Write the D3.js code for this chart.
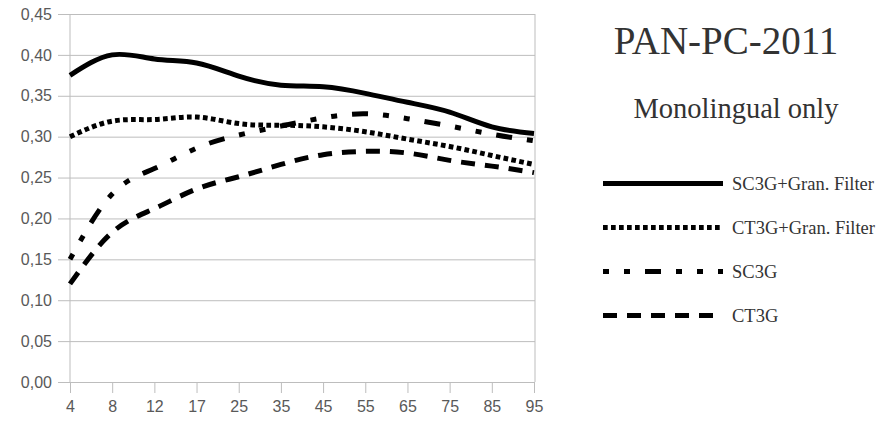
<!DOCTYPE html>
<html>
<head>
  <meta charset="utf-8">
  <script src="https://d3js.org/d3.v7.min.js"></script>
  <style>
    body { margin: 0; background: #fff; }
  </style>
</head>
<body>
  <div id="my_dataviz"></div>
<script>

  // categories on the x axis
  var categories = ["4", "8", "12", "17", "25", "35", "45", "55", "65", "75", "85", "95"];

  // series values
  var sc3gGran = [0.375, 0.400, 0.395, 0.390, 0.374, 0.363, 0.361, 0.353, 0.342, 0.330, 0.312, 0.304];
  var ct3gGran = [0.300, 0.319, 0.321, 0.324, 0.316, 0.314, 0.312, 0.306, 0.297, 0.288, 0.277, 0.266];
  var sc3g     = [0.150, 0.230, 0.261, 0.286, 0.302, 0.313, 0.323, 0.328, 0.322, 0.313, 0.303, 0.295];
  var ct3g     = [0.120, 0.183, 0.212, 0.236, 0.251, 0.266, 0.278, 0.282, 0.280, 0.271, 0.264, 0.256];

  var seriesNames = ["SC3G+Gran. Filter", "CT3G+Gran. Filter", "SC3G", "CT3G"];
  var yTicks = [0, 0.05, 0.10, 0.15, 0.20, 0.25, 0.30, 0.35, 0.40, 0.45];

  var series = [
    {name: seriesNames[0], values: sc3gGran, dash: null},
    {name: seriesNames[1], values: ct3gGran, dash: "4.7,3.3"},
    {name: seriesNames[2], values: sc3g, dash: "6,15,6,15,16,15"},
    {name: seriesNames[3], values: ct3g, dash: "14,10"}
  ];

  var width = 879, height = 422;
  var plot = {left: 70, right: 534, top: 14, bottom: 382};

  var svg = d3.select("#my_dataviz")
    .append("svg")
      .attr("width", width)
      .attr("height", height);

  var x = d3.scalePoint()
      .domain(categories)
      .range([plot.left, plot.right]);

  var y = d3.scaleLinear()
      .domain([0, 0.45])
      .range([plot.bottom, plot.top]);

  var grid = "#bdbdbd";
  var fmt = function(d) { return d3.format(".2f")(d).replace(".", ","); };

  // horizontal grid + y axis labels
  var yAxis = svg.append("g")
      .attr("transform", "translate(" + (plot.right + 1) + ",0)")
      .call(d3.axisLeft(y).tickValues(yTicks).tickSize(plot.right + 1 - plot.left + 12).tickPadding(6).tickFormat(fmt));
  yAxis.select(".domain").remove();
  yAxis.selectAll("line").attr("stroke", grid);
  yAxis.selectAll("text")
      .attr("fill", "#595959")
      .style("font-family", "'Liberation Sans', Arial, sans-serif")
      .style("font-size", "16px");

  // x axis
  var xAxis = svg.append("g")
      .attr("transform", "translate(0," + plot.bottom + ")")
      .call(d3.axisBottom(x).tickSize(11).tickPadding(8));
  xAxis.select(".domain").remove();
  xAxis.selectAll("line").attr("stroke", grid);
  xAxis.selectAll("text")
      .attr("fill", "#595959")
      .style("font-family", "'Liberation Sans', Arial, sans-serif")
      .style("font-size", "16px");

  // left axis line and right border
  svg.append("line")
      .attr("x1", plot.left).attr("x2", plot.left)
      .attr("y1", plot.top).attr("y2", plot.bottom)
      .attr("stroke", grid);
  svg.append("line")
      .attr("x1", plot.right + 1).attr("x2", plot.right + 1)
      .attr("y1", plot.top).attr("y2", plot.bottom)
      .attr("stroke", grid);

  // the lines
  var line = d3.line()
      .curve(d3.curveNatural)
      .x(function(d, i) { return x(categories[i]); })
      .y(function(d) { return y(d); });

  svg.append("g")
    .selectAll("path")
    .data(series)
    .join("path")
      .attr("fill", "none")
      .attr("stroke", "#000")
      .attr("stroke-width", 5)
      .attr("stroke-dasharray", function(d) { return d.dash; })
      .attr("d", function(d) { return line(d.values); });

  // titles
  svg.append("text")
      .attr("x", 726).attr("y", 54)
      .attr("text-anchor", "middle")
      .attr("fill", "#333")
      .style("font-family", "'Liberation Serif', 'Times New Roman', serif")
      .style("font-size", "39px")
      .text("PAN-PC-2011");
  svg.append("text")
      .attr("x", 736).attr("y", 118)
      .attr("text-anchor", "middle")
      .attr("fill", "#333")
      .style("font-family", "'Liberation Serif', 'Times New Roman', serif")
      .style("font-size", "28.5px")
      .text("Monolingual only");

  // legend
  var legend = svg.append("g")
    .selectAll("g")
    .data(series)
    .join("g")
      .attr("transform", function(d, i) { return "translate(603," + (183.5 + i * 44) + ")"; });
  legend.append("line")
      .attr("x1", 0).attr("x2", 120)
      .attr("stroke", "#000")
      .attr("stroke-width", 5)
      .attr("stroke-dasharray", function(d) { return d.dash; });
  legend.append("text")
      .attr("x", 129).attr("y", 6)
      .attr("fill", "#333")
      .style("font-family", "'Liberation Serif', 'Times New Roman', serif")
      .style("font-size", "18.5px")
      .text(function(d) { return d.name; });

</script>
</body>
</html>
